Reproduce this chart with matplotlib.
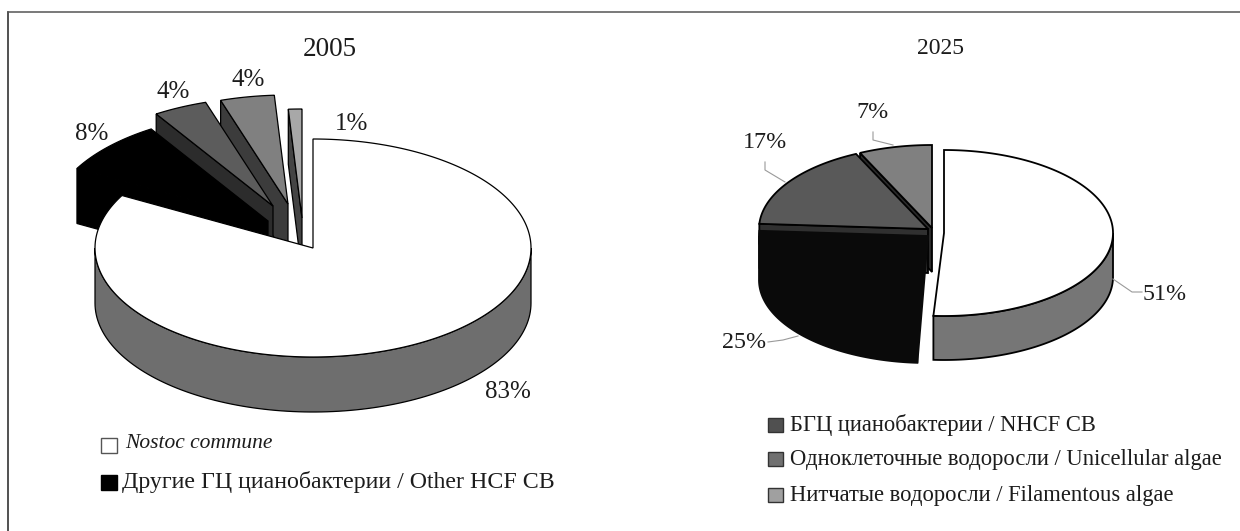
# 2005 vs 2025 exploded 3D pies, drawn by hand because matplotlib has no 3D pie
import numpy as np
import matplotlib
matplotlib.use('Agg')
import matplotlib.pyplot as plt
from matplotlib.patches import Polygon, Rectangle

# data, clockwise from 12 o'clock
shares_2005 = [83, 8, 4, 4, 1]
shares_2025 = [51, 25, 17, 7]
labels_2005 = ['83%', '8%', '4%', '4%', '1%']
labels_2025 = ['51%', '25%', '17%', '7%']
legend_2005 = ['Nostoc commune', 'Другие ГЦ цианобактерии / Other HCF CB']
legend_2025 = ['БГЦ цианобактерии / NHCF CB',
               'Одноклеточные водоросли / Unicellular algae',
               'Нитчатые водоросли / Filamentous algae']
title_left = '2005'
title_right = '2025'

# slice colours: top, wall
styles_2005 = [('white', '#6e6e6e'), ('black', 'black'), ('#5c5c5c', '#2c2c2c'),
               ('#808080', '#3c3c3c'), ('#a8a8a8', '#444444')]
styles_2025 = [('white', '#767676'), ('#0a0a0a', '#0a0a0a'), ('#595959', '#303030'),
               ('#808080', '#2a2a2a')]

plt.rcParams['font.family'] = ['Liberation Serif', 'DejaVu Serif']
TXT = '#1c1c1c'

fig = plt.figure(figsize=(12.4, 5.31), dpi=100)
ax = fig.add_axes([0, 0, 1, 1])
ax.set_xlim(0, 1240)
ax.set_ylim(531, 0)
ax.axis('off')

# frame of the scanned figure
ax.plot([7.5, 7.5], [531, 11.5], color='#222222', lw=1.1)
ax.plot([7.5, 1240], [11.5, 11.5], color='#555555', lw=1.1)


def arc(cx, cy, rx, ry, a0, a1, n=120):
    t = np.radians(np.linspace(a0, a1, n))
    return np.column_stack([cx + rx*np.cos(t), cy - ry*np.sin(t)])


def draw_slice(center, rx, ry, depth, a0, a1, style, lw):
    # angles go clockwise, a0 > a1
    cx, cy = center
    top, wall = style
    ec = top if top == '#0a0a0a' else 'black'
    c = np.array([cx, cy])
    down = np.array([0, depth])
    o = arc(cx, cy, rx, ry, a0, a0, 1)[0]
    if a0 > -180:
        # front slice: the cut face only shows as a sliver
        ax.add_patch(Polygon([o, c, o + down], fc=wall, ec=ec, lw=lw))
    else:
        ax.add_patch(Polygon([o, c, c + down, o + down], fc=wall, ec=ec, lw=lw))
    # outer wall, only the part in the lower half of the ellipse
    lo = max(a1, -180)
    hi = min(a0, 0)
    if hi > lo:
        edge = arc(cx, cy, rx, ry, hi, lo)
        ax.add_patch(Polygon(np.vstack([edge, (edge + down)[::-1]]), fc=wall, ec=ec, lw=lw))
    ring = arc(cx, cy, rx, ry, a0, a1)
    ax.add_patch(Polygon(np.vstack([c, ring]), fc=top, ec=ec, lw=lw))


def draw_pie(shares, centers, rx, ry, depth, styles, lw):
    ang = 90 - np.cumsum([0] + shares)*3.6
    # back slices first, the first slice goes on top
    for i in range(len(shares) - 1, 0, -1):
        draw_slice(centers[i], rx, ry, depth, ang[i], ang[i+1], styles[i], lw)
    cx, cy = centers[0]
    top, wall = styles[0]
    edge = arc(cx, cy, rx, ry, 0, max(ang[1], -180))
    ax.add_patch(Polygon(np.vstack([edge, (edge + [0, depth])[::-1]]), fc=wall, ec='black', lw=lw))
    ring = arc(cx, cy, rx, ry, ang[0], ang[1], 300)
    ax.add_patch(Polygon(np.vstack([[cx, cy], ring]), fc=top, ec='black', lw=lw))


centers_2005 = [(313, 248), (268, 221), (273, 206), (288, 204), (302, 218)]
draw_pie(shares_2005, centers_2005, 218, 109, 55, styles_2005, 0.9)

centers_2025 = [(944, 233), (928, 236), (928, 229), (932, 228)]
draw_pie(shares_2025, centers_2025, 169, 83, 44, styles_2025, 1.3)

# leader lines on the right pie
leaders = [[(1113, 279), (1132, 292), (1142, 292)],
           [(798, 336), (783, 340), (768, 342)],
           [(785, 182), (765, 170), (765, 162)],
           [(893, 145), (873, 140), (873, 132)]]
for pts in leaders:
    p = np.array(pts)
    ax.plot(p[:, 0], p[:, 1], color='#9a9a9a', lw=0.8)

# titles
ax.text(330, 49, title_left, fontsize=19.5, color=TXT, ha='center', va='center')
ax.text(941, 49, title_right, fontsize=17, color=TXT, ha='center', va='center')

# value labels
pos_2005 = [(508, 392), (92, 134), (173, 92), (248, 80), (352, 124)]
for s, (x, y) in zip(labels_2005, pos_2005):
    ax.text(x, y, s, fontsize=18, color=TXT, ha='center', va='center')
pos_2025 = [(1165, 294), (744, 342), (765, 142), (873, 113)]
for s, (x, y) in zip(labels_2025, pos_2025):
    ax.text(x, y, s, fontsize=17.3, color=TXT, ha='center', va='center')

# legends
ax.add_patch(Rectangle((101, 438), 16, 15, fc='white', ec='#555555', lw=1))
ax.text(125, 443, legend_2005[0], fontsize=15.5, style='italic', color=TXT, va='center')
ax.add_patch(Rectangle((101, 475), 16, 15, fc='black', ec='black', lw=1))
ax.text(122, 482, legend_2005[1], fontsize=17.2, color=TXT, va='center')

legend_cols = ['#505050', '#707070', '#a0a0a0']
legend_y = [425, 459, 495]
for s, c, y in zip(legend_2025, legend_cols, legend_y):
    ax.add_patch(Rectangle((768, y - 7), 15, 14, fc=c, ec='#333333', lw=1))
    ax.text(790, y, s, fontsize=16.3, color=TXT, va='center')

fig.savefig('out.png', dpi=100)
